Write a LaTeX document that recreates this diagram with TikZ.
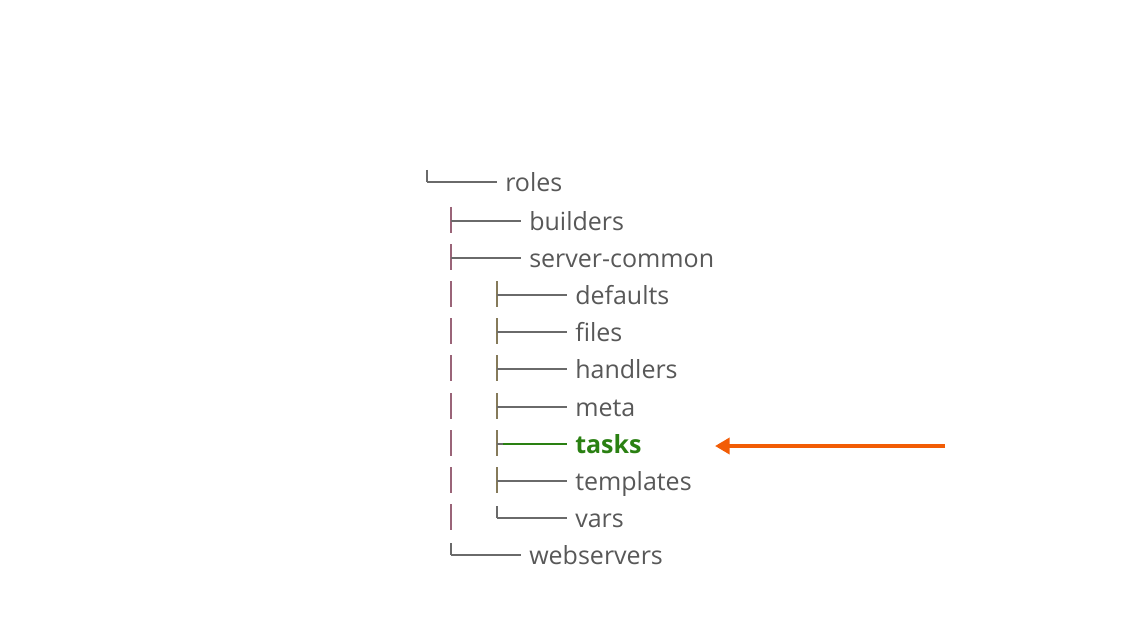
\documentclass[tikz,border=0pt]{standalone}
\usepackage{fontspec}
\setmainfont{Open Sans}
\usetikzlibrary{calc,arrows.meta}
\definecolor{txtgray}{HTML}{585858}
\definecolor{linegray}{HTML}{6A6A6A}
\definecolor{pipeA}{HTML}{9A6478}
\definecolor{pipeB}{HTML}{857A5A}
\definecolor{taskgreen}{HTML}{2A8012}
\definecolor{arroworange}{HTML}{F25C05}
\begin{document}
\begin{tikzpicture}[x=0.75pt,y=-0.75pt,
  item/.style={anchor=west,inner sep=0pt,text height=13.5pt,text depth=0pt,
    font=\fontsize{18.75pt}{22pt}\selectfont,text=txtgray},
  hl/.style={draw=linegray,line width=1pt},
  vA/.style={draw=pipeA,line width=1pt},
  vB/.style={draw=pipeB,line width=1pt},
  vC/.style={draw=linegray,line width=1pt},
  pointer/.style={draw=arroworange,line width=3pt,-{Triangle[length=11pt,width=12pt]}}]
\useasboundingbox[fill=white] (0,0) rectangle (1135,638);

% rows
\node[item] (roles) at (505,182) {roles};
\node[item] (builders) at (529,221) {builders};
\node[item] (common) at (529,258) {server-common};
\node[item] (defaults) at (575,295) {defaults};
\node[item] (files) at (575,332) {files};
\node[item] (handlers) at (575,369) {handlers};
\node[item] (meta) at (575,407) {meta};
\node[item,text=taskgreen,font=\fontsize{18.75pt}{22pt}\selectfont\bfseries] (tasks) at (575,444) {tasks};
\node[item] (templates) at (575,481) {templates};
\node[item] (vars) at (575,518) {vars};
\node[item] (web) at (529,555) {webservers};

% level 0: roles (last)
\draw[vC] ($(roles.west)+(-78,-12)$) -- ++(0,12);
\draw[hl] ($(roles.west)+(-78,0)$) -- ++(70,0);

% level 1 tees
\foreach \c in {builders,common}{
  \draw[vA] ($(\c.west)+(-78,-14)$) -- ++(0,26);
  \draw[hl] ($(\c.west)+(-78,0)$) -- ++(70,0);
}
% level 1 last
\draw[vC] ($(web.west)+(-78,-12)$) -- ++(0,12);
\draw[hl] ($(web.west)+(-78,0)$) -- ++(70,0);

% level 2 pipes
\foreach \c in {defaults,files,handlers,meta,tasks,templates,vars}{
  \draw[vA] ($(\c.west)+(-124,-14)$) -- ++(0,26);
}
% level 2 tees
\foreach \c in {defaults,files,handlers,meta,templates}{
  \draw[vB] ($(\c.west)+(-78,-14)$) -- ++(0,26);
  \draw[hl] ($(\c.west)+(-78,0)$) -- ++(70,0);
}
\draw[vB] ($(tasks.west)+(-78,-14)$) -- ++(0,26);
\draw[hl] ($(tasks.west)+(-78,0)$) -- ++(6,0);
\draw[draw=taskgreen,line width=1pt] ($(tasks.west)+(-72,0)$) -- ++(64,0);
% level 2 last
\draw[vC] ($(vars.west)+(-78,-12)$) -- ++(0,12);
\draw[hl] ($(vars.west)+(-78,0)$) -- ++(70,0);

% arrow
\coordinate (atail) at (945,446);
\coordinate (ahead) at (715,446);
\draw[pointer] (atail) -- (ahead);
\end{tikzpicture}
\end{document}
